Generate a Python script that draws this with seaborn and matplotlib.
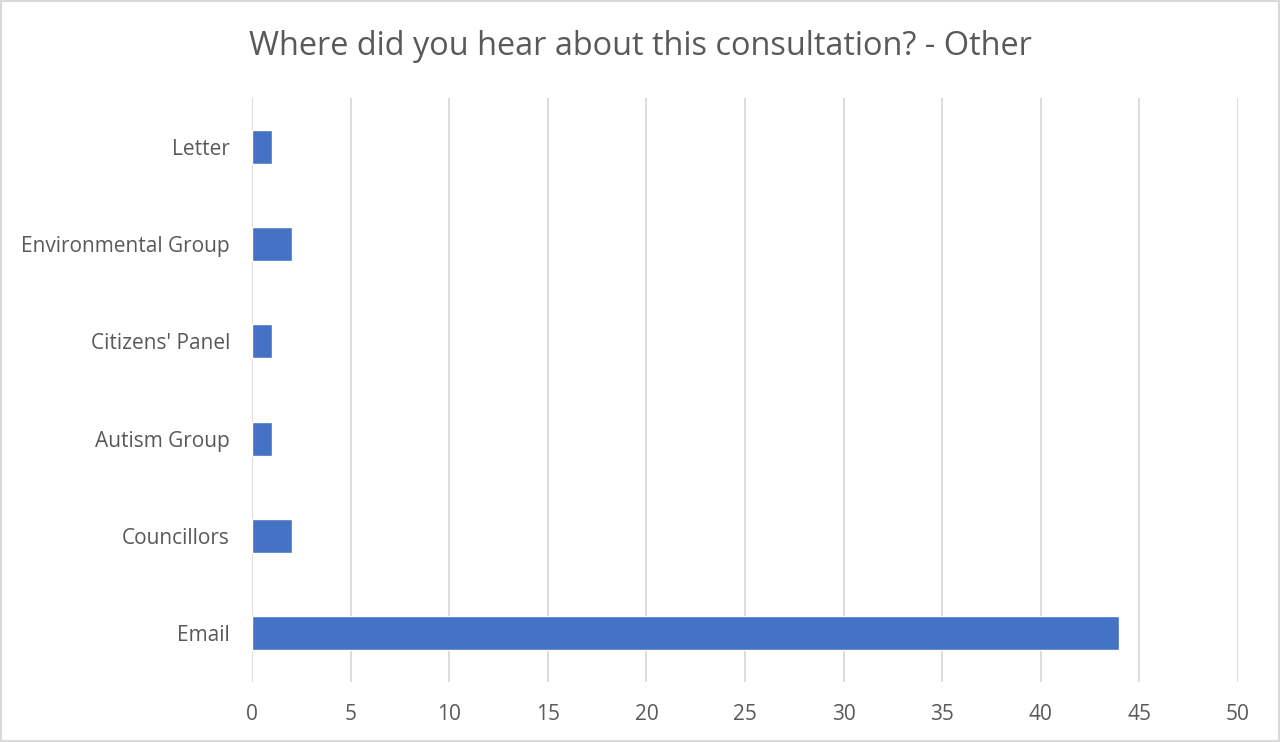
import matplotlib
matplotlib.use('agg')
import matplotlib.pyplot as plt
from matplotlib.patches import Rectangle
import pandas as pd
import seaborn as sns

sns.set_style("white")
plt.rcParams['font.family'] = ['Open Sans', 'DejaVu Sans']

categories = ["Letter", "Environmental Group", "Citizens' Panel", "Autism Group", "Councillors", "Email"]
counts = [1, 2, 1, 1, 2, 44]
x_ticks = [0, 5, 10, 15, 20, 25, 30, 35, 40, 45, 50]

df = pd.DataFrame({"source": categories, "count": counts})

fig = plt.figure(figsize=(12.8, 7.42), dpi=100)
ax = fig.add_axes([0.197, 0.081, 0.770, 0.787])

sns.barplot(data=df, x="count", y="source", order=categories, color="#4472C4",
            width=0.35, saturation=1, ax=ax)

ax.set_xlim(0, 50)
ax.set_xticks(x_ticks)
ax.xaxis.grid(True, color="#D9D9D9", linewidth=1.3)
ax.set_axisbelow(True)
for s in ax.spines.values():
    s.set_visible(False)
ax.set_xlabel("")
ax.set_ylabel("")
ax.tick_params(axis="both", length=0, labelsize=15, labelcolor="#595959")
ax.tick_params(axis="y", pad=16)
ax.tick_params(axis="x", pad=16)

fig.suptitle("Where did you hear about this consultation? - Other", x=0.5, y=0.938,
             va="center", fontsize=23.4, color="#595959")

fig.patches.append(Rectangle((0.001, 0.001), 0.998, 0.998, transform=fig.transFigure,
                             fill=False, edgecolor="#D9D9D9", linewidth=1.5))

fig.savefig("out.png", dpi=100)
plt.close()
